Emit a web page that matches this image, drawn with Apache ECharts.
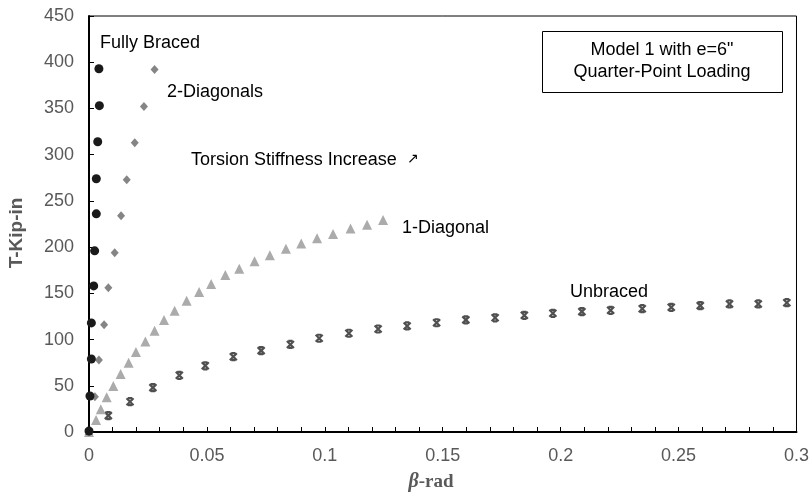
<!DOCTYPE html>
<html>
<head>
<meta charset="utf-8">
<script src="https://cdn.jsdelivr.net/npm/echarts@6/dist/echarts.min.js"></script>
<style>
  html, body { margin: 0; padding: 0; background: #fff; }
  #chart { width: 812px; height: 497px; }
</style>
</head>
<body>
<div id="chart"></div>
<script>
// 读图得到的数据（β-rad, T-Kip-in）
var fullyBracedX = [0, 0.0004, 0.001, 0.001, 0.002, 0.0024, 0.0031, 0.0031, 0.0037, 0.0044, 0.0042];
var fullyBracedY = [1, 39, 79, 118, 158, 196, 236, 274, 314, 353, 393];

var twoDiagX = [0, 0.0025, 0.0042, 0.0064, 0.0082, 0.0109, 0.0136, 0.016, 0.0194, 0.0233, 0.0278];
var twoDiagY = [0, 38, 78, 116, 156, 194, 234, 273, 313, 352, 392];

var oneDiagX = [0, 0.003, 0.005, 0.0075, 0.0103, 0.0134, 0.0168, 0.0199, 0.0239, 0.0278, 0.0318, 0.0363, 0.0414,
    0.0467, 0.0518, 0.0578, 0.0637, 0.0702, 0.0767, 0.0835, 0.09, 0.0967, 0.1035, 0.1109, 0.1179, 0.1247];
var oneDiagY = [0, 13, 24.5, 37.5, 49.8, 62.7, 75, 86.5, 98, 109.6, 121.2, 131.2, 142,
    151.4, 160, 169.8, 176.7, 184.7, 191.3, 198.2, 204, 209.5, 214.2, 220, 224.3, 229.3];

var unbracedX = [0, 0.0082, 0.0174, 0.0271, 0.0383, 0.0493, 0.0612, 0.073, 0.0854, 0.0976, 0.1102, 0.1226, 0.1349,
    0.1474, 0.1598, 0.1722, 0.1846, 0.1967, 0.209, 0.2212, 0.2346, 0.2469, 0.2592, 0.2716, 0.2838, 0.2959];
var unbracedY = [0, 17.7, 32.8, 48, 61.3, 71.6, 81.5, 88, 94.7, 101.4, 106.8, 111.4, 114.7,
    118.2, 121.3, 123.5, 126.2, 128.4, 130.2, 131.6, 133.4, 134.9, 136.7, 138.5, 138.5, 139.9];

var xTicks = [0, 0.05, 0.1, 0.15, 0.2, 0.25, 0.3];
var yTicks = [0, 50, 100, 150, 200, 250, 300, 350, 400, 450];

var FONT = "'Liberation Sans', Arial, sans-serif";

function zip(xs, ys) {
    return xs.map(function(x, i) { return [x, ys[i]]; });
}

// 图中标注文字
function note(text, x, y) {
    return {
        type: 'text', x: x, y: y,
        style: { text: text, fontFamily: FONT, fontSize: 18, fill: '#000', verticalAlign: 'middle' }
    };
}

var chart = echarts.init(document.getElementById('chart'));
chart.setOption({
    animation: false,
    grid: { left: 89, top: 16, right: 15, bottom: 65, show: true, borderColor: '#000', borderWidth: 1 },
    xAxis: {
        type: 'value',
        min: xTicks[0], max: xTicks[xTicks.length - 1], interval: 0.05,
        axisLine: { lineStyle: { color: '#000', width: 2 } },
        axisTick: { inside: true, length: 5, lineStyle: { color: '#000' } },
        minorTick: { show: true, splitNumber: 5, length: 5, lineStyle: { color: '#000' } },
        splitLine: { show: false },
        axisLabel: {
            margin: 15, fontFamily: FONT, fontSize: 18, color: '#595959',
            formatter: function(v) { return String(+v.toFixed(2)); }
        }
    },
    yAxis: {
        type: 'value',
        min: yTicks[0], max: yTicks[yTicks.length - 1], interval: 50,
        axisLine: { lineStyle: { color: '#000', width: 2 } },
        axisTick: { inside: true, length: 5, lineStyle: { color: '#000' } },
        splitLine: { show: false },
        axisLabel: { margin: 15, fontFamily: FONT, fontSize: 18, color: '#595959' }
    },
    series: [
        {
            name: 'Unbraced', type: 'scatter', data: zip(unbracedX, unbracedY),
            symbol: 'path://M0,0L10,10M10,0L0,10M2,0L8,0M2,10L8,10',
            symbolSize: 7,
            itemStyle: { color: 'rgba(0,0,0,0)', borderColor: '#505050', borderWidth: 2.2, opacity: 1 }
        },
        {
            name: '1-Diagonal', type: 'scatter', data: zip(oneDiagX, oneDiagY),
            symbol: 'triangle', symbolSize: 10,
            itemStyle: { color: '#ababab', opacity: 1 }
        },
        {
            name: '2-Diagonals', type: 'scatter', data: zip(twoDiagX, twoDiagY),
            symbol: 'diamond', symbolSize: [8, 9],
            itemStyle: { color: '#858585', opacity: 1 }
        },
        {
            name: 'Fully Braced', type: 'scatter', data: zip(fullyBracedX, fullyBracedY),
            symbol: 'circle', symbolSize: 9,
            itemStyle: { color: '#1a1a1a', opacity: 1 }
        }
    ],
    graphic: [
        note('Fully Braced', 100, 43),
        note('2-Diagonals', 167, 92),
        note('Torsion Stiffness Increase', 191, 160),
        { type: 'text', x: 407, y: 159, style: { text: '↗', fontFamily: "'DejaVu Sans', sans-serif", fontSize: 14, fill: '#000', verticalAlign: 'middle' } },
        note('1-Diagonal', 402, 228),
        note('Unbraced', 570, 292),
        {
            type: 'rect', left: 542, top: 31,
            shape: { width: 240, height: 61 },
            style: { fill: '#fff', stroke: '#000', lineWidth: 1 }
        },
        {
            type: 'text', x: 662, y: 61,
            style: {
                text: 'Model 1 with e=6"\nQuarter-Point Loading', align: 'center', verticalAlign: 'middle',
                fontFamily: FONT, fontSize: 18, lineHeight: 22, fill: '#000'
            }
        },
        // 坐标轴名称
        {
            type: 'text', x: 17, y: 233, rotation: Math.PI / 2,
            style: {
                text: 'T-Kip-in', align: 'center', verticalAlign: 'middle',
                fontFamily: FONT, fontSize: 19, fontWeight: 'bold', fill: '#595959'
            }
        },
        {
            type: 'text', x: 431, y: 482,
            style: {
                text: '{b|β}-rad', align: 'center', verticalAlign: 'middle',
                fontFamily: "'Liberation Serif', 'DejaVu Serif', serif", fontSize: 19, fontWeight: 'bold', fill: '#595959',
                rich: { b: { fontFamily: "'Liberation Serif', serif", fontSize: 20, fontWeight: 'bold', fontStyle: 'italic', fill: '#595959' } }
            }
        }
    ]
});
</script>
</body>
</html>
